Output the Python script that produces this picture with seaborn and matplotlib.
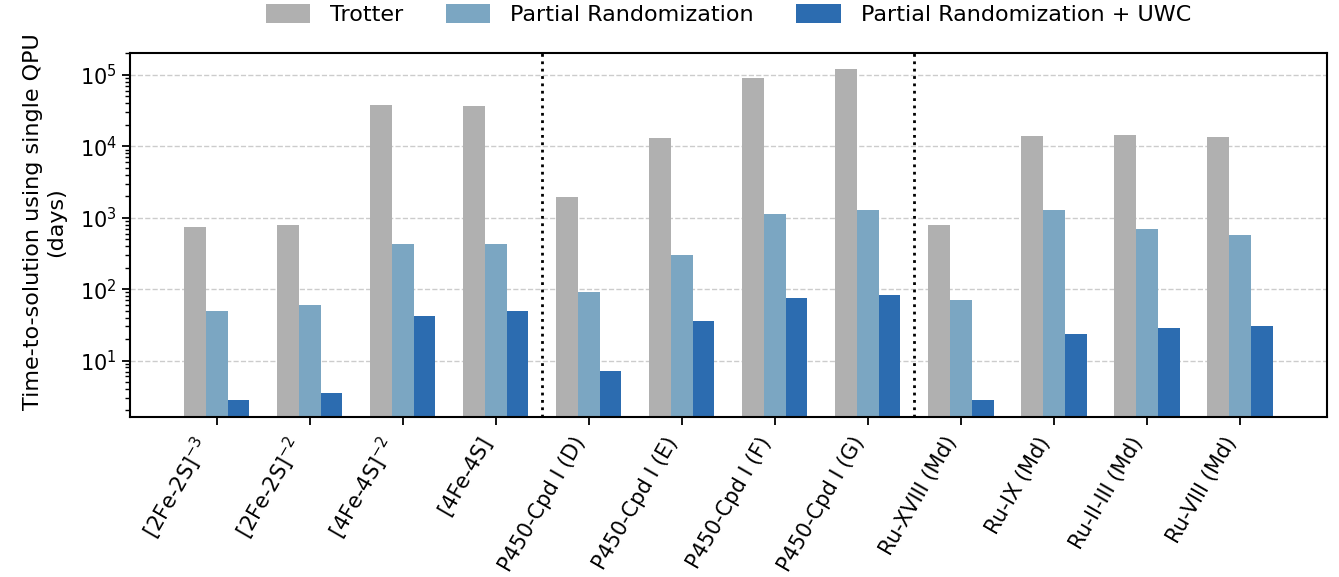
import pandas as pd
import matplotlib
import matplotlib.pyplot as plt
import seaborn as sns

matplotlib.use("Agg")

systems = [
    r"[2Fe-2S]$^{-3}$", r"[2Fe-2S]$^{-2}$", r"[4Fe-4S]$^{-2}$", "[4Fe-4S]",
    "P450-Cpd I (D)", "P450-Cpd I (E)", "P450-Cpd I (F)", "P450-Cpd I (G)",
    "Ru-XVIII (Md)", "Ru-IX (Md)", "Ru-II-III (Md)", "Ru-VIII (Md)",
]
methods = ["Trotter", "Partial Randomization", "Partial Randomization + UWC"]

trotter = [730, 780, 37600, 36400, 1920, 12900, 90000, 120000, 780, 13800, 14300, 13400]
partial_rand = [50, 59, 434, 434, 92, 304, 1110, 1300, 71, 1300, 705, 580]
partial_rand_uwc = [2.8, 3.5, 42.4, 50, 7.2, 36, 76, 84, 2.8, 23.7, 28.8, 30.7]

colors = ["#b0b0b0", "#7ba6c2", "#2c6cb0"]

df = pd.DataFrame({
    "system": systems * 3,
    "method": [m for m in methods for _ in systems],
    "days": trotter + partial_rand + partial_rand_uwc,
})

sns.set_style("ticks")
plt.rcParams["font.family"] = ["DejaVu Sans"]
plt.rcParams["text.color"] = "black"
plt.rcParams["axes.labelcolor"] = "black"
plt.rcParams["xtick.color"] = "black"
plt.rcParams["ytick.color"] = "black"

fig, ax = plt.subplots(figsize=(13.39, 5.77), dpi=100)
fig.subplots_adjust(left=0.097, right=0.991, bottom=0.278, top=0.909)

sns.barplot(data=df, x="system", y="days", hue="method", hue_order=methods,
            palette=colors, width=0.7, saturation=1, ax=ax, errorbar=None,
            linewidth=0)
ax.set_yscale("log")
ax.set_ylim(1.64, 2.06e5)
ax.set_xlim(-0.935, 11.935)

ax.yaxis.grid(True, which="major", linestyle="--", color="#cccccc", linewidth=1)
ax.set_axisbelow(True)
for x in [3.5, 7.5]:
    ax.axvline(x, color="black", linestyle=":", linewidth=2)

for s in ax.spines.values():
    s.set_linewidth(1.5)
    s.set_color("black")
ax.tick_params(axis="both", which="major", length=6, width=1.3, labelsize=15)
ax.tick_params(axis="x", which="major", pad=6)
ax.tick_params(axis="y", which="minor", length=3.5, width=1)

ax.set_xlabel("")
ax.set_ylabel("Time-to-solution using single QPU\n(days)", fontsize=16)
ax.yaxis.set_label_coords(-0.053, 0.535)
plt.setp(ax.get_xticklabels(), rotation=60, ha="right")

ax.legend(loc="lower center", bbox_to_anchor=(0.5, 1.02), ncol=3, frameon=False,
          fontsize=16, handlelength=2.0, handleheight=0.9, handletextpad=0.9,
          columnspacing=1.9)

plt.savefig("out.png", dpi=100)
plt.close()
